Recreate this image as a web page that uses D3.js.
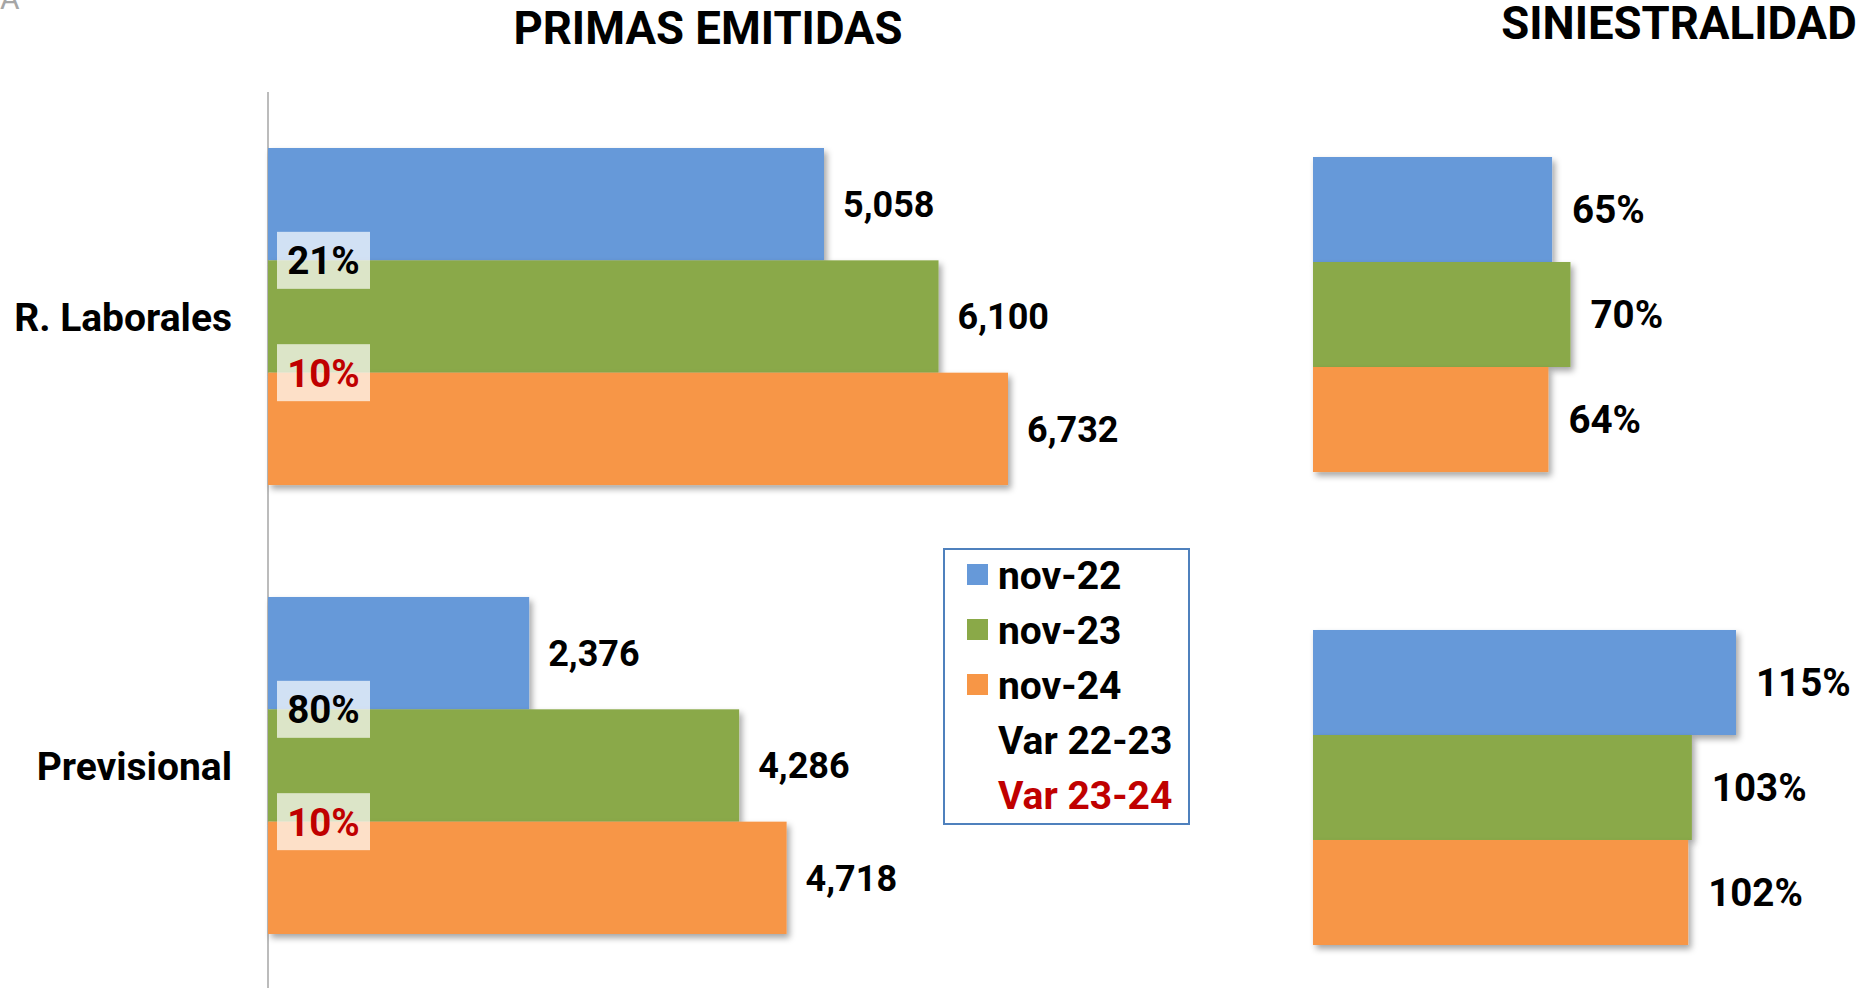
<!DOCTYPE html>
<html lang="es">
<head>
<meta charset="utf-8">
<title>Primas y siniestralidad</title>
<script src="https://cdn.jsdelivr.net/npm/d3@7/dist/d3.min.js"></script>
<style>
  body { margin: 0; background: #ffffff; }
  svg text { font-family: Roboto, "Liberation Sans", sans-serif; font-weight: bold; }
  .title { font-size: 45.5px; fill: #000; text-anchor: middle; }
  .cat { font-size: 39px; fill: #000; text-anchor: end; }
  .val { font-size: 36px; fill: #000; }
  .pct { font-size: 38.5px; fill: #000; }
  .var { font-size: 38.5px; text-anchor: middle; }
  .leg { font-size: 39px; fill: #000; }
</style>
</head>
<body>
<script>
// data
var categories = ["R. Laborales", "Previsional"];
var series = ["nov-22", "nov-23", "nov-24"];
var primas = [[5058, 6100, 6732], [2376, 4286, 4718]];
var siniestralidad = [[0.65, 0.70, 0.64], [1.15, 1.03, 1.02]];
var var2223 = ["21%", "80%"];
var var2324 = ["10%", "10%"];
var legendLabels = ["nov-22", "nov-23", "nov-24", "Var 22-23", "Var 23-24"];

var colors = ["#6699d9", "#8aa948", "#f79646"];
var red = "#c00000";

var width = 1870, height = 988;

var svg = d3.select("body").append("svg")
  .attr("width", width)
  .attr("height", height);

// shadow under the bars
var defs = svg.append("defs");
var shadow = defs.append("filter").attr("id", "shadow")
  .attr("x", "-5%").attr("y", "-10%").attr("width", "115%").attr("height", "130%");
shadow.append("feDropShadow")
  .attr("dx", 3).attr("dy", 4)
  .attr("stdDeviation", 3)
  .attr("flood-color", "#000")
  .attr("flood-opacity", 0.35);

// left chart scales
var xLeft = d3.scaleLinear().domain([0, 6732]).range([268, 1008]);
var yLeft = d3.scaleBand().domain(categories).range([148, 934]).paddingInner(0.2494);
var yLeftIn = d3.scaleBand().domain(series).range([0, yLeft.bandwidth()]);

// right chart scales
var xRight = d3.scaleLinear().domain([0, 1.15]).range([1313, 1736]);
var yRight = d3.scaleBand().domain(categories).range([157, 945]).paddingInner(0.334);
var yRightIn = d3.scaleBand().domain(series).range([0, yRight.bandwidth()]);

var fmt = d3.format(",");
var pct = d3.format(".0%");

// titles
svg.append("text").attr("class", "title").attr("x", 708).attr("y", 44).text("PRIMAS EMITIDAS");
svg.append("text").attr("class", "title").attr("x", 1679).attr("y", 39).text("SINIESTRALIDAD");

// stray glyph in the corner
svg.append("text").attr("x", 0).attr("y", 9)
  .style("font-size", "30px").style("font-weight", "normal").style("fill", "#a6a6a6")
  .text("A");

// vertical axis line
svg.append("line")
  .attr("x1", xLeft(0)).attr("x2", xLeft(0))
  .attr("y1", 92).attr("y2", height)
  .attr("stroke", "#a6a6a6").attr("stroke-width", 1.5);

// category labels
svg.selectAll(".cat")
  .data(categories)
  .enter().append("text")
  .attr("class", "cat")
  .attr("x", 232)
  .attr("y", function(d) { return yLeft(d) + yLeft.bandwidth() / 2; })
  .attr("dy", "0.36em")
  .text(function(d) { return d; });

// left bars
categories.forEach(function(cat, ci) {
  var g = svg.append("g").attr("transform", "translate(0," + yLeft(cat) + ")");
  g.selectAll("rect")
    .data(primas[ci])
    .enter().append("rect")
    .attr("x", xLeft(0))
    .attr("y", function(d, i) { return yLeftIn(series[i]); })
    .attr("width", function(d) { return xLeft(d) - xLeft(0); })
    .attr("height", yLeftIn.bandwidth())
    .attr("fill", function(d, i) { return colors[i]; })
    .attr("filter", "url(#shadow)");
  g.selectAll(".val")
    .data(primas[ci])
    .enter().append("text")
    .attr("class", "val")
    .attr("x", function(d) { return xLeft(d) + 19; })
    .attr("y", function(d, i) { return yLeftIn(series[i]) + yLeftIn.bandwidth() / 2; })
    .attr("dy", "0.36em")
    .text(function(d) { return fmt(d); });

  // variation boxes on the series boundaries
  var vars = [var2223[ci], var2324[ci]];
  var vg = g.selectAll(".vbox")
    .data(vars)
    .enter().append("g")
    .attr("transform", function(d, i) { return "translate(0," + yLeftIn(series[i + 1]) + ")"; });
  vg.append("rect")
    .attr("x", 277).attr("y", -28.5)
    .attr("width", 93).attr("height", 57)
    .attr("fill", "#fff").attr("fill-opacity", 0.7);
  vg.append("text")
    .attr("class", "var")
    .attr("x", 323.5).attr("y", 0).attr("dy", "0.36em")
    .attr("fill", function(d, i) { return i === 0 ? "#000" : red; })
    .text(function(d) { return d; });
});

// right bars
categories.forEach(function(cat, ci) {
  var g = svg.append("g").attr("transform", "translate(0," + yRight(cat) + ")");
  g.selectAll("rect")
    .data(siniestralidad[ci])
    .enter().append("rect")
    .attr("x", xRight(0))
    .attr("y", function(d, i) { return yRightIn(series[i]); })
    .attr("width", function(d) { return xRight(d) - xRight(0); })
    .attr("height", yRightIn.bandwidth())
    .attr("fill", function(d, i) { return colors[i]; })
    .attr("filter", "url(#shadow)");
  g.selectAll(".pct")
    .data(siniestralidad[ci])
    .enter().append("text")
    .attr("class", "pct")
    .attr("x", function(d) { return xRight(d) + 20; })
    .attr("y", function(d, i) { return yRightIn(series[i]) + yRightIn.bandwidth() / 2; })
    .attr("dy", "0.36em")
    .text(function(d) { return pct(d); });
});

// legend
var legend = svg.append("g").attr("transform", "translate(944,549)");
legend.append("rect")
  .attr("width", 245).attr("height", 275)
  .attr("fill", "#fff")
  .attr("stroke", "#4f81bd").attr("stroke-width", 2);
var rows = legend.selectAll(".row")
  .data(legendLabels)
  .enter().append("g")
  .attr("transform", function(d, i) { return "translate(0," + (25.5 + i * 55) + ")"; });
rows.filter(function(d, i) { return i < 3; })
  .append("rect")
  .attr("x", 23).attr("y", -10.5)
  .attr("width", 21).attr("height", 21)
  .attr("fill", function(d, i) { return colors[i]; });
rows.append("text")
  .attr("class", "leg")
  .attr("x", 54).attr("dy", "0.36em")
  .style("fill", function(d, i) { return i === 4 ? red : "#000"; })
  .text(function(d) { return d; });
</script>
</body>
</html>
